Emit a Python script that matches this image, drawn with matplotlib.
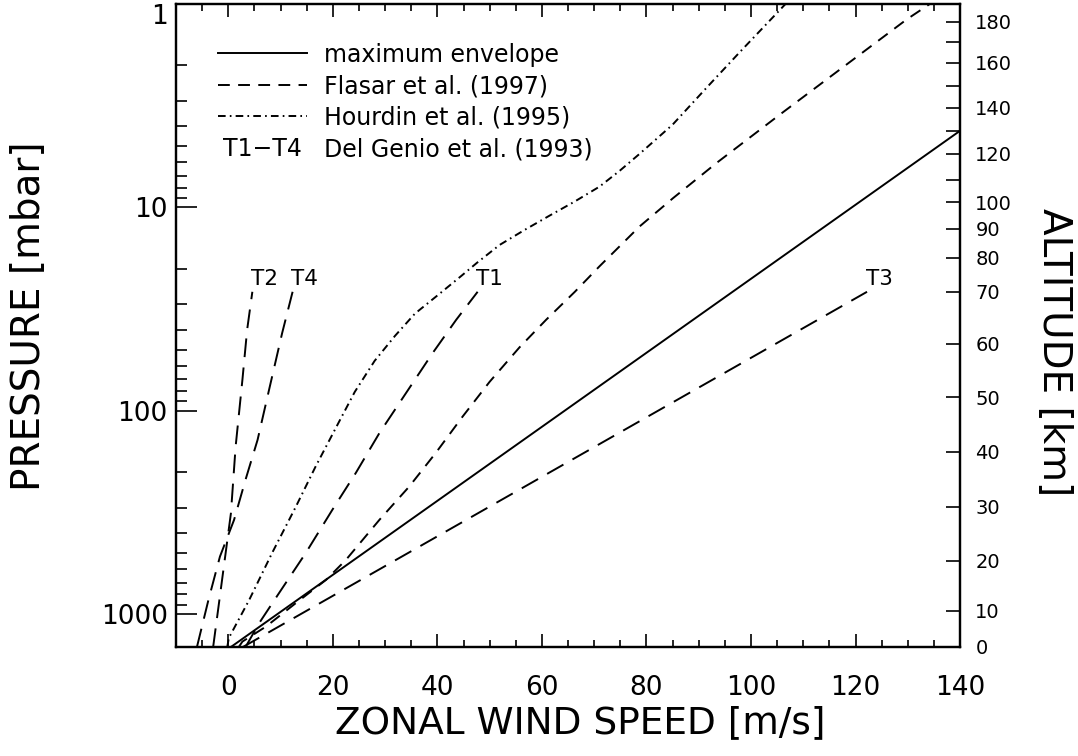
import numpy as np
import matplotlib.pyplot as plt
import matplotlib.text as mtext
from matplotlib.ticker import FixedLocator, MultipleLocator, FuncFormatter, NullFormatter

plt.rcParams['font.family'] = 'DejaVu Sans'
plt.rcParams['lines.scale_dashes'] = False

# --- datos (u en m/s, p en mbar) ---
env_u = [0.5, 140]
env_p = [1450, 4.2]

flasar_u = [2.0, 2.7, 7.2, 12.9, 18.7, 22.5, 28.9, 34.6, 39.7, 44.8, 50.0, 55.7,
            60.8, 66.3, 71.0, 78.7, 85.1, 93.4, 105.5, 117.0, 129.8, 134.2]
flasar_p = [1450, 1364, 1151, 883, 678, 541, 344, 236, 161, 107, 72.0, 48.8,
            35.7, 26.0, 19.5, 12.4, 9.0, 6.05, 3.5, 2.1, 1.19, 1.0]

hourdin_u = [-0.2, 0.1, 4.0, 8.4, 12.9, 16.7, 20.6, 24.2, 28.0, 31.9, 35.7, 40.4,
             44.6, 47.6, 51.9, 56.7, 61.4, 66.2, 71.0, 74.9, 78.7, 85.0, 91.5,
             97.8, 106.6]
hourdin_p = [1450, 1309, 851, 499, 297, 188, 121, 80.7, 56.8, 42.8, 33.3, 26.6,
             21.7, 18.7, 15.3, 12.9, 11.0, 9.38, 7.91, 6.6, 5.45, 3.92, 2.58,
             1.73, 1.0]

t1_u = [3.3, 5.9, 9.7, 14.8, 19.9, 24.4, 28.9, 34.0, 39.1, 43.6, 47.7]
t1_p = [1450, 1107, 788, 501, 307, 202, 128.8, 81.8, 52.0, 35.7, 26.0]

t2_u = [-2.9, 0.5, 1.4, 2.7, 3.6, 4.6]
t2_p = [1450, 319, 150, 70.4, 40.0, 26.0]

t3_u = [2.8, 122.2]
t3_p = [1450, 26.0]

t4_u = [-6.0, -3.8, -1.6, 1.1, 3.3, 5.6, 7.8, 10.3, 12.3]
t4_p = [1450, 851, 521, 344, 218, 139, 78.8, 41.5, 26.0]

# eje derecho: altitud (km) y su presion equivalente (mbar)
alt_km = [0, 10, 20, 30, 40, 50, 60, 70, 80, 90, 100, 110, 120, 130, 140, 150, 160, 170, 180]
alt_p = [1450, 960, 545, 296, 159, 85.6, 46.8, 26.0, 17.7, 12.7, 9.45, 7.31, 5.44,
         4.20, 3.24, 2.54, 1.95, 1.54, 1.22]
alt_sin_etiqueta = [110, 130, 150, 170]

legend_labels = ['maximum envelope', 'Flasar et al. (1997)',
                 'Hourdin et al. (1995)', 'Del Genio et al. (1993)']


class TextHandler:
    def legend_artist(self, legend, orig_handle, fontsize, handlebox):
        x0, y0 = handlebox.xdescent, handlebox.ydescent
        w, h = handlebox.width, handlebox.height
        t = mtext.Text(x0 + w / 2, y0 + h / 2 - 1, orig_handle.get_text(),
                       ha='center', va='center', fontsize=fontsize)
        handlebox.add_artist(t)
        return t


fig = plt.figure(figsize=(10.78, 7.56), dpi=100)
ax = fig.add_axes([0.1633, 0.1442, 0.7273, 0.8505])

lw = 1.4
short_dash = (8.5, 6)
long_dash = (13.5, 7.5)
dash_dot = (5.5, 3, 1.2, 3)

l_env, = ax.plot(env_u, env_p, color='k', lw=lw)
l_fl, = ax.plot(flasar_u, flasar_p, color='k', lw=lw, dashes=short_dash)
l_ho, = ax.plot(hourdin_u, hourdin_p, color='k', lw=lw, dashes=dash_dot)
for uu, pp, name in [(t1_u, t1_p, 'T1'), (t2_u, t2_p, 'T2'),
                     (t3_u, t3_p, 'T3'), (t4_u, t4_p, 'T4')]:
    ax.plot(uu, pp, color='k', lw=lw, dashes=long_dash)
    ax.annotate(name, (uu[-1], pp[-1]), xytext=(-1, 2), textcoords='offset points',
                ha='left', va='bottom', fontsize=15.5)

ax.set_yscale('log')
ax.set_xlim(-10, 140)
ax.set_ylim(1450, 1)

ax.xaxis.set_major_locator(MultipleLocator(20))
ax.xaxis.set_minor_locator(MultipleLocator(5))
ax.yaxis.set_major_locator(FixedLocator([1, 10, 100, 1000]))
ax.yaxis.set_minor_locator(FixedLocator([m * d for d in [1, 10, 100, 1000]
                                         for m in range(2, 10) if m * d < 1450]))
ax.yaxis.set_major_formatter(FuncFormatter(lambda v, _: f'{v:g}'))
ax.yaxis.set_minor_formatter(NullFormatter())

ax.tick_params(axis='x', which='both', direction='in', top=True, bottom=True,
               labelsize=19, pad=20)
ax.tick_params(axis='x', which='major', length=9.5, width=1.2)
ax.tick_params(axis='x', which='minor', length=5, width=1.2)
ax.tick_params(axis='y', which='both', direction='in', left=True, right=False,
               labelsize=19, pad=6)
ax.tick_params(axis='y', which='major', length=15, width=1.2)
ax.tick_params(axis='y', which='minor', length=8, width=1.2)
# el "1" de arriba se baja para que no se corte
ax.yaxis.get_major_ticks()[0].label1.set_va('top')
for s in ax.spines.values():
    s.set_linewidth(1.6)

ax.set_xlabel('ZONAL WIND SPEED [m/s]', fontsize=27, labelpad=3)
ax.xaxis.label.set_x(0.515)
ax.set_ylabel('PRESSURE [mbar]', fontsize=28, labelpad=38)
ax.yaxis.label.set_y(0.515)

# eje de altitud
ax2 = ax.twinx()
ax2.set_yscale('log')
ax2.set_ylim(1450, 1)
ax2.yaxis.set_major_locator(FixedLocator(alt_p))
ax2.yaxis.set_minor_locator(FixedLocator([]))
ax2.set_yticklabels(['' if a in alt_sin_etiqueta else str(a) for a in alt_km])
ax2.tick_params(axis='y', which='major', direction='in', length=10, width=1.2,
                labelsize=14, pad=11, right=True, left=False)
ax2.set_ylabel('ALTITUDE [km]', fontsize=28, rotation=270, va='bottom', labelpad=16)
ax2.yaxis.label.set_y(0.459)
for s in ax2.spines.values():
    s.set_linewidth(1.6)

handles = [l_env, l_fl, l_ho, mtext.Text(text='T1\u2212T4')]
ax.legend(handles, legend_labels, handler_map={mtext.Text: TextHandler()},
          loc='upper left', bbox_to_anchor=(0.0536, 0.94), frameon=False,
          fontsize=17, handlelength=3.77, handletextpad=0.72, labelspacing=0.32,
          borderpad=0, borderaxespad=0)

fig.savefig('out.png', dpi=100)
